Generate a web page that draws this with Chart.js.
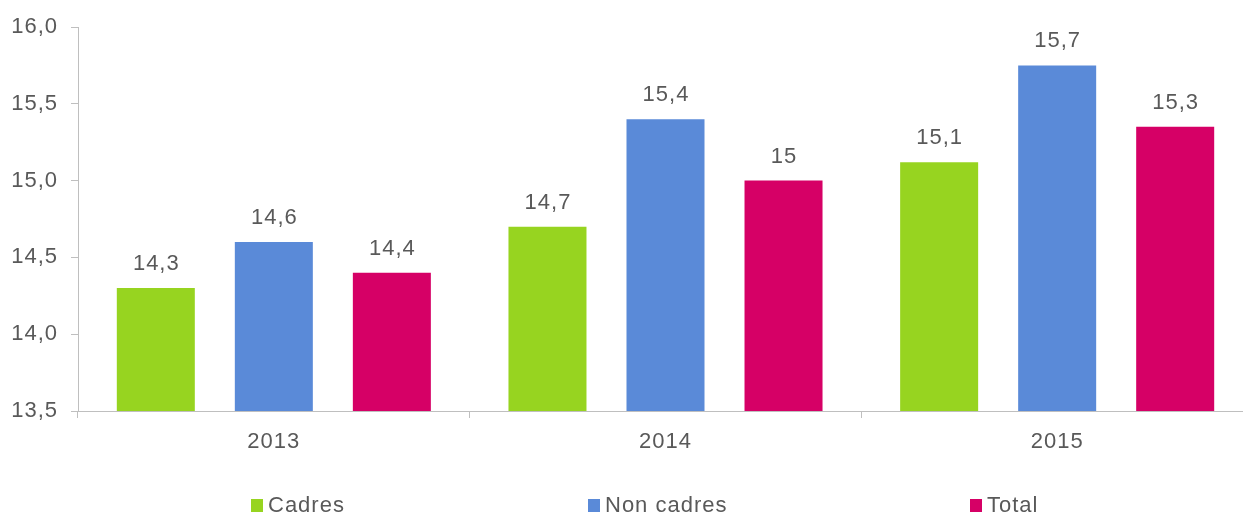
<!DOCTYPE html>
<html>
<head>
<meta charset="utf-8">
<script src="https://cdn.jsdelivr.net/npm/chart.js@4"></script>
<style>
  html, body { margin: 0; padding: 0; background: #fff; overflow: hidden; }
  #wrap { position: relative; width: 1243px; height: 516px; overflow: hidden; }
  #box { position: absolute; left: 0; top: 0; width: 1253px; height: 516px; }
  .sw { position: absolute; top: 499px; width: 12px; height: 13px; }
  .lt { position: absolute; top: 492px; line-height: 24px; font: 22px "Liberation Sans", Arial, sans-serif; letter-spacing: 1px; color: #595959; white-space: nowrap; }
</style>
</head>
<body>
<div id="wrap">
  <div id="box"><canvas id="chart" width="1253" height="516"></canvas></div>
  <div id="legend"></div>
</div>
<script>
const years = ['2013', '2014', '2015'];
const seriesNames = ['Cadres', 'Non cadres', 'Total'];
const cadres = [14.3, 14.7, 15.12];
const nonCadres = [14.6, 15.4, 15.75];
const total = [14.4, 15.0, 15.35];
// value labels as printed on the original
const cadresLabels = ['14,3', '14,7', '15,1'];
const nonCadresLabels = ['14,6', '15,4', '15,7'];
const totalLabels = ['14,4', '15', '15,3'];
const yTicks = [13.5, 14.0, 14.5, 15.0, 15.5, 16.0];

const colors = ['#97D420', '#5A8AD8', '#D60066'];
const textColor = '#595959';
const axisColor = '#BFBFBF';
const font = { family: '"Liberation Sans", Arial, sans-serif', size: 22 };

// legend (spread wide like the original)
const legendLeft = [251, 588, 970];
const legend = document.getElementById('legend');
seriesNames.forEach((name, i) => {
    const sw = document.createElement('div');
    sw.className = 'sw';
    sw.style.left = legendLeft[i] + 'px';
    sw.style.background = colors[i];
    legend.appendChild(sw);
    const t = document.createElement('div');
    t.className = 'lt';
    t.style.left = (legendLeft[i] + 17) + 'px';
    t.textContent = name;
    legend.appendChild(t);
});

// a bit of tracking, like the original's text rendering
const spacing = {
    id: 'spacing',
    beforeDraw(chart) { chart.ctx.letterSpacing = '1px'; }
};

// draws the value above each bar
const barLabels = {
    id: 'barLabels',
    afterDatasetsDraw(chart) {
        const ctx = chart.ctx;
        ctx.save();
        ctx.font = font.size + 'px ' + font.family;
        ctx.letterSpacing = '1px';
        ctx.fillStyle = textColor;
        ctx.textAlign = 'center';
        ctx.textBaseline = 'middle';
        chart.data.datasets.forEach((ds, i) => {
            chart.getDatasetMeta(i).data.forEach((bar, j) => {
                ctx.fillText(ds.valueLabels[j], bar.x + 0.5, bar.y - 24);
            });
        });
        ctx.restore();
    }
};

const mk = (label, data, labels, i) => ({
    label: label,
    data: data,
    valueLabels: labels,
    backgroundColor: colors[i],
    borderWidth: 0,
    categoryPercentage: 0.904,
    barPercentage: 0.661
});

new Chart(document.getElementById('chart'), {
    type: 'bar',
    data: {
        labels: years,
        datasets: [
            mk(seriesNames[0], cadres, cadresLabels, 0),
            mk(seriesNames[1], nonCadres, nonCadresLabels, 1),
            mk(seriesNames[2], total, totalLabels, 2)
        ]
    },
    options: {
        responsive: false,
        animation: false,
        layout: { padding: { top: 27, right: 0, left: 0, bottom: 0 } },
        plugins: {
            legend: { display: false },
            tooltip: { enabled: false }
        },
        scales: {
            x: {
                grid: { drawOnChartArea: false, color: axisColor, tickLength: 7, offset: true },
                border: { color: axisColor },
                ticks: { color: textColor, font: font, padding: 11 },
                afterFit: s => { s.height = 105; }
            },
            y: {
                min: 13.5,
                max: 16.0,
                afterBuildTicks: s => { s.ticks = yTicks.map(v => ({ value: v })); },
                grid: { drawOnChartArea: false, color: axisColor, tickLength: 7 },
                border: { color: axisColor },
                ticks: {
                    color: textColor,
                    font: font,
                    padding: 13,
                    callback: v => v.toFixed(1).replace('.', ',')
                },
                afterFit: s => { s.width = 78; }
            }
        }
    },
    plugins: [spacing, barLabels]
});
</script>
</body>
</html>
